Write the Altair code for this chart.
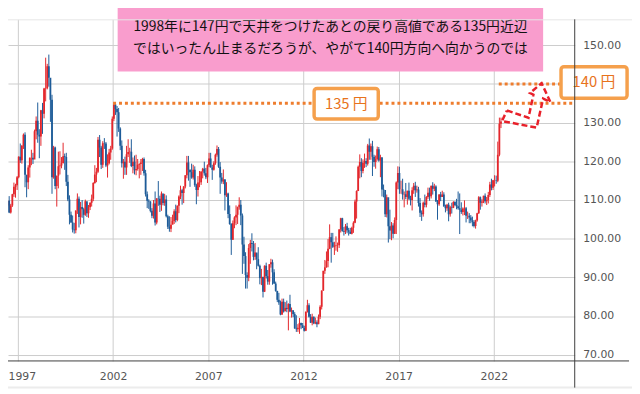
import altair as alt
import pandas as pd

# ---------------- data: USD/JPY monthly bars, Mar 1996 - May 2022 ----------------
START_YEAR, START_MONTH = 1996, 3
OPEN_FIRST = 105.3

HIGH = [
    107.4, 108.0, 109.1, 109.9, 111.0, 109.0, 111.6, 114.5, 114.2, 116.2,  # 1996 Mar-Dec
    121.3, 124.6, 124.2, 127.2, 127.5, 116.5, 119.0, 121.0, 123.0, 122.2, 128.2, 131.6,  # 1997
    135.2, 128.3, 133.3, 135.1, 139.0, 146.8, 145.2, 147.6, 139.6, 137.2, 124.0, 123.8,  # 1998
    116.3, 122.5, 122.6, 121.1, 124.8, 122.0, 122.2, 116.5, 111.2, 107.0, 106.0, 104.1,  # 1999
    107.3, 111.7, 110.9, 109.5, 110.0, 108.0, 110.1, 109.3, 108.7, 109.4, 111.4, 114.6,  # 2000
    119.0, 118.3, 126.3, 126.8, 124.0, 125.2, 126.0, 125.0, 121.8, 123.2, 124.0, 131.6,  # 2001
    135.2, 135.0, 134.3, 133.8, 128.8, 125.4, 120.6, 121.2, 124.0, 125.7, 123.5, 125.7,  # 2002
    121.0, 121.5, 121.7, 120.6, 119.5, 120.6, 120.9, 121.0, 117.8, 112.2, 110.2, 109.7,  # 2003
    107.9, 110.0, 112.2, 110.5, 114.9, 111.1, 112.2, 111.3, 111.6, 111.2, 106.2, 105.8,  # 2004
    105.6, 106.2, 107.6, 108.8, 108.6, 111.2, 113.7, 112.9, 113.6, 116.4, 121.4, 121.4,  # 2005
    117.9, 119.4, 119.1, 118.7, 114.2, 116.2, 117.5, 117.4, 118.3, 119.9, 118.3, 119.2,  # 2006
    122.2, 122.2, 119.1, 120.0, 122.0, 124.1, 123.7, 119.8, 117.0, 117.9, 115.4, 114.6,  # 2007
    111.9, 108.6, 104.0, 104.7, 105.8, 108.6, 108.3, 110.7, 110.0, 106.5, 100.5, 96.5,  # 2008
    91.3, 98.6, 99.7, 101.4, 99.4, 98.9, 96.1, 97.8, 93.3, 92.2, 90.2, 93.1,  # 2009
    93.8, 91.9, 93.4, 94.8, 94.6, 92.1, 88.9, 86.5, 86.0, 84.0, 84.5, 84.5,  # 2010
    83.6, 84.0, 83.3, 85.5, 82.2, 81.4, 81.0, 80.2, 77.9, 79.5, 78.3, 78.2,  # 2011
    77.5, 81.2, 84.2, 83.3, 80.5, 80.6, 79.9, 79.6, 78.9, 80.4, 82.8, 86.6,  # 2012
    91.7, 94.5, 96.7, 99.9, 103.7, 101.5, 101.5, 99.2, 100.6, 99.0, 102.5, 105.4,  # 2013
    105.4, 103.0, 103.8, 104.1, 102.8, 102.8, 103.1, 104.5, 110.1, 112.5, 118.9, 121.8,  # 2014
    120.8, 120.5, 122.0, 120.8, 124.5, 125.9, 124.6, 125.3, 121.7, 121.5, 123.8, 123.7,  # 2015
    121.7, 121.1, 114.0, 112.0, 111.4, 110.5, 107.5, 104.3, 104.0, 105.5, 114.8, 118.7,  # 2016
    118.6, 115.0, 115.5, 112.2, 114.4, 112.4, 114.5, 111.1, 113.3, 114.4, 114.7, 113.7,  # 2017
    113.4, 110.5, 107.3, 109.6, 111.4, 111.0, 113.2, 113.2, 113.7, 114.6, 114.2, 113.8,  # 2018
    110.0, 111.5, 112.1, 112.4, 112.0, 108.8, 109.0, 109.3, 108.5, 109.3, 109.7, 109.7,  # 2019
    110.3, 112.2, 111.7, 109.4, 108.1, 109.9, 108.2, 107.0, 106.6, 106.1, 105.7, 104.8,  # 2020
    104.9, 106.7, 111.0, 110.9, 110.2, 111.1, 111.7, 110.8, 112.1, 114.7, 115.5, 115.2,  # 2021
    116.4, 116.3, 125.1, 131.3, 131.3,  # 2022 Jan-May
]

LOW = [
    104.9, 104.1, 104.6, 108.0, 106.6, 106.5, 108.2, 110.8, 110.6, 112.6,  # 1996
    115.6, 119.6, 119.4, 123.2, 113.3, 110.7, 112.8, 115.8, 119.0, 119.3, 121.1, 125.7,  # 1997
    124.8, 120.8, 124.0, 127.1, 131.1, 135.5, 138.6, 139.3, 130.2, 111.6, 115.5, 112.8,  # 1998
    108.3, 113.0, 116.6, 118.2, 119.5, 117.8, 113.6, 109.7, 103.7, 104.1, 101.6, 101.3,  # 1999
    101.4, 106.4, 102.9, 103.7, 105.4, 103.9, 105.9, 105.6, 105.4, 107.4, 108.3, 109.7,  # 2000
    114.2, 114.6, 117.0, 121.1, 118.0, 118.3, 123.2, 118.5, 115.8, 119.2, 120.4, 123.0,  # 2001
    130.4, 132.0, 126.4, 127.6, 122.9, 118.4, 115.5, 116.5, 116.5, 121.1, 119.6, 118.5,  # 2002
    116.9, 116.6, 116.4, 117.6, 115.6, 116.5, 117.5, 116.3, 110.9, 107.9, 107.7, 106.8,  # 2003
    105.3, 105.2, 103.4, 103.7, 108.5, 106.9, 107.2, 108.6, 108.5, 105.5, 102.5, 101.8,  # 2004
    101.7, 103.8, 103.8, 104.2, 104.5, 106.6, 110.2, 108.8, 109.2, 113.0, 115.6, 115.0,  # 2005
    113.4, 115.5, 115.3, 113.4, 108.9, 110.9, 113.3, 113.9, 115.6, 116.3, 115.4, 114.4,  # 2006
    118.5, 118.4, 115.2, 117.6, 119.1, 121.2, 118.3, 111.6, 114.2, 114.1, 107.3, 110.8,  # 2007
    105.3, 103.6, 95.8, 99.7, 102.7, 103.5, 103.8, 107.5, 103.5, 90.9, 93.5, 87.1,  # 2008
    87.1, 89.0, 93.5, 96.7, 94.4, 94.5, 92.1, 92.8, 88.2, 88.0, 84.8, 86.2,  # 2009
    89.7, 88.1, 88.1, 92.5, 88.1, 88.3, 86.3, 83.6, 82.9, 80.2, 80.3, 80.9,  # 2010
    81.5, 81.0, 76.3, 81.0, 79.6, 79.7, 76.7, 75.9, 75.9, 75.4, 76.6, 76.9,  # 2011
    76.0, 76.1, 80.9, 79.6, 78.2, 77.6, 77.9, 77.9, 77.1, 77.9, 79.2, 81.7,  # 2012
    86.5, 90.9, 92.5, 92.6, 97.3, 93.8, 97.6, 95.8, 96.9, 96.6, 97.6, 101.6,  # 2013
    101.8, 100.8, 101.2, 101.4, 100.8, 101.2, 101.1, 101.5, 104.0, 105.2, 112.3, 115.6,  # 2014
    115.9, 116.9, 118.3, 118.5, 118.9, 120.4, 120.4, 116.2, 118.6, 118.1, 120.2, 119.9,  # 2015
    115.9, 110.9, 110.7, 105.6, 105.5, 99.0, 99.9, 99.6, 100.1, 101.2, 101.2, 112.8,  # 2016
    111.6, 111.6, 110.1, 108.1, 110.2, 108.8, 110.0, 108.6, 107.3, 111.6, 110.8, 111.9,  # 2017
    108.3, 105.6, 104.6, 105.7, 108.1, 108.1, 110.3, 109.8, 110.4, 111.4, 112.3, 109.5,  # 2018
    104.9, 108.5, 109.7, 110.8, 108.3, 106.8, 107.2, 104.5, 105.7, 106.5, 107.9, 108.4,  # 2019
    107.6, 107.5, 101.2, 106.4, 106.0, 106.1, 104.2, 105.1, 104.0, 104.0, 103.2, 102.9,  # 2020
    102.6, 104.4, 106.4, 107.5, 108.3, 109.2, 109.1, 108.7, 109.1, 110.8, 112.5, 112.6,  # 2021
    113.5, 114.2, 114.6, 121.3, 128.6,  # 2022
]

CLOSE = [
    106.4, 104.6, 108.6, 109.8, 106.8, 108.6, 111.5, 113.4, 113.8, 115.9,  # 1996
    121.2, 120.3, 124.0, 126.9, 116.5, 114.6, 118.4, 120.9, 120.9, 120.5, 127.8, 130.5,  # 1997
    126.9, 126.4, 133.2, 132.3, 138.8, 138.9, 144.6, 141.6, 135.9, 115.9, 123.6, 113.6,  # 1998
    116.3, 118.7, 118.9, 119.5, 121.3, 121.1, 114.7, 110.1, 106.2, 104.2, 102.4, 102.2,  # 1999
    107.3, 110.3, 105.6, 108.2, 107.6, 106.2, 109.7, 106.6, 108.1, 109.3, 110.3, 114.4,  # 2000
    116.6, 117.3, 125.6, 123.6, 119.1, 124.7, 124.6, 118.9, 119.5, 122.3, 123.3, 131.0,  # 2001
    134.7, 133.5, 132.7, 128.5, 124.0, 119.5, 119.9, 118.4, 121.8, 122.4, 122.5, 118.8,  # 2002
    119.9, 117.7, 118.0, 119.1, 119.3, 119.7, 120.6, 116.9, 111.5, 109.8, 109.6, 107.2,  # 2003
    105.9, 109.1, 104.2, 110.4, 110.3, 108.8, 111.7, 109.2, 110.1, 105.8, 103.1, 102.6,  # 2004
    103.6, 104.6, 107.1, 104.8, 108.5, 110.9, 112.5, 111.8, 113.5, 116.4, 119.7, 117.8,  # 2005
    117.2, 115.8, 117.8, 113.8, 112.6, 114.5, 114.6, 117.4, 118.1, 116.9, 115.9, 119.0,  # 2006
    120.7, 118.4, 117.8, 119.5, 121.7, 123.2, 118.6, 115.8, 114.8, 115.3, 111.2, 111.7,  # 2007
    106.4, 103.8, 99.7, 104.0, 105.5, 106.2, 108.1, 108.8, 106.0, 98.5, 95.5, 90.6,  # 2008
    89.9, 97.6, 98.9, 98.6, 95.3, 96.4, 94.7, 93.0, 89.8, 90.1, 86.3, 93.0,  # 2009
    90.3, 88.9, 93.4, 93.9, 91.3, 88.4, 86.5, 84.2, 83.5, 80.4, 83.7, 81.2,  # 2010
    82.1, 81.8, 83.1, 81.2, 81.5, 80.5, 76.8, 76.6, 77.0, 78.2, 77.6, 76.9,  # 2011
    76.2, 81.1, 82.8, 79.8, 78.3, 79.8, 78.1, 78.4, 77.9, 79.8, 82.4, 86.6,  # 2012
    91.7, 92.6, 94.2, 97.4, 100.4, 99.1, 97.9, 98.2, 98.3, 98.3, 102.4, 105.3,  # 2013
    102.0, 101.8, 103.2, 102.2, 101.8, 101.3, 102.8, 104.1, 109.6, 112.3, 118.6, 119.8,  # 2014
    117.5, 119.6, 120.1, 119.4, 124.1, 122.5, 123.9, 121.2, 119.8, 120.6, 123.1, 120.2,  # 2015
    121.0, 112.7, 112.6, 106.3, 110.7, 103.2, 102.1, 103.4, 101.3, 104.8, 114.5, 117.0,  # 2016
    112.8, 112.8, 111.4, 111.5, 110.8, 112.4, 110.3, 110.0, 112.5, 113.7, 112.5, 112.7,  # 2017
    109.2, 106.7, 106.3, 109.3, 108.8, 110.8, 111.9, 111.0, 113.7, 112.9, 113.5, 109.6,  # 2018
    108.9, 111.4, 110.8, 111.4, 108.3, 107.9, 108.8, 106.3, 108.1, 108.0, 109.5, 108.7,  # 2019
    108.4, 107.9, 107.5, 106.9, 107.8, 107.9, 105.9, 105.9, 105.5, 104.7, 104.3, 103.3,  # 2020
    104.7, 106.6, 110.7, 109.3, 109.6, 111.1, 109.7, 110.0, 111.3, 114.0, 113.2, 115.1,  # 2021
    115.1, 115.0, 121.7, 129.7, 130.3,  # 2022
]

YEAR_TICKS = [1997, 2002, 2007, 2012, 2017, 2022]
PRICE_TICKS = [70, 80, 90, 100, 110, 120, 130, 140, 150]
HIDDEN_PRICE_LABEL = 140  # covered by the "140 円" box in the original
X_DOMAIN = [1996.48, 2026.25]
Y_DOMAIN = [68.39, 156.71]

TITLE_LINES = [
    "1998年に147円で天井をつけたあとの戻り高値である135円近辺",
    "ではいったん止まるだろうが、やがて140円方向へ向かうのでは",
]
TITLE_X = [2013.42, 2013.42]
TITLE_Y = [154.67, 149.06]
TITLE_BOX = dict(x=2002.24, x2=2024.59, y=160.5, y2=143.2)

LEVEL_LINES = dict(x=[2002.0, 2022.26], x2=[2026.25, 2025.53], y=[135.0, 140.0])
LEVEL_BOXES = dict(x=[2012.56, 2025.53], x2=[2015.93, 2029.0],
                   y=[138.85, 144.46], y2=[130.93, 136.29])
LEVEL_TEXT = ["135 円", "140 円"]
LEVEL_TEXT_X = [2014.25, 2027.26]
LEVEL_TEXT_Y = [134.85, 140.4]

ARROW_X = [2022.69, 2023.82, 2024.08, 2023.90, 2024.51, 2024.97, 2024.59, 2024.25, 2022.43, 2022.69]
ARROW_Y = [133.15, 131.26, 137.24, 137.65, 140.20, 135.35, 136.22, 128.71, 130.42, 133.15]

# ---------------- build tables ----------------
rows = []
prev = OPEN_FIRST
for i, (h, l, c) in enumerate(zip(HIGH, LOW, CLOSE)):
    m0 = START_MONTH - 1 + i
    yr = START_YEAR + m0 // 12
    mo = m0 % 12 + 1
    rows.append(dict(t=yr + (mo - 0.5) / 12, high=h, low=l, open=prev, close=c,
                     dir="up" if c >= prev else "down"))
    prev = c
bars = pd.DataFrame(rows)

xs = alt.Scale(domain=X_DOMAIN, nice=False, zero=False)
ys = alt.Scale(domain=Y_DOMAIN, nice=False, zero=False)
col = alt.Scale(domain=["up", "down"], range=["#e3262b", "#1d5b98"])

W, H = 574, 346

xaxis = alt.Axis(values=YEAR_TICKS, format="d", title=None, grid=True, domain=False,
                 ticks=False, labelPadding=10, labelFont="DejaVu Sans", labelFontSize=11,
                 labelColor="#555555", gridColor="#cccccc",
                 labelFlush=12, labelFlushOffset=10)
yaxis = alt.Axis(values=PRICE_TICKS, title=None, grid=True, domain=False,
                 ticks=False, orient="right", labelPadding=8, labelFont="DejaVu Sans",
                 labelFontSize=11, labelColor="#555555", gridColor="#cccccc",
                 labelExpr=f"datum.value == {HIDDEN_PRICE_LABEL} ? '' : format(datum.value, '.2f')")

base_bars = alt.Chart(bars)
wick = base_bars.mark_rule(strokeWidth=1, clip=True).encode(
    x=alt.X("t:Q", scale=xs, axis=xaxis),
    y=alt.Y("low:Q", scale=ys, axis=yaxis),
    y2="high:Q",
    color=alt.Color("dir:N", scale=col, legend=None),
)
body = base_bars.mark_rule(strokeWidth=1.8, clip=True).encode(
    x=alt.X("t:Q", scale=xs),
    y=alt.Y("open:Q", scale=ys),
    y2="close:Q",
    color=alt.Color("dir:N", scale=col, legend=None),
)

title_box = alt.Chart(pd.DataFrame([TITLE_BOX])).mark_rect(color="#f99dcd").encode(
    x=alt.X("x:Q", scale=xs), x2="x2:Q", y=alt.Y("y:Q", scale=ys), y2="y2:Q")
title_text = alt.Chart(pd.DataFrame({"x": TITLE_X, "y": TITLE_Y, "s": TITLE_LINES})).mark_text(
    font="Noto Sans CJK JP", fontSize=14, color="#111111", align="center", baseline="middle"
).encode(x=alt.X("x:Q", scale=xs), y=alt.Y("y:Q", scale=ys), text="s:N")

lines = alt.Chart(pd.DataFrame(LEVEL_LINES)).mark_rule(
    color="#ee7d2e", strokeWidth=3, strokeDash=[3, 3]
).encode(x=alt.X("x:Q", scale=xs), x2="x2:Q", y=alt.Y("y:Q", scale=ys))

boxes = alt.Chart(pd.DataFrame(LEVEL_BOXES)).mark_rect(
    fill="white", stroke="#f5a04c", strokeWidth=3.5, cornerRadius=3
).encode(x=alt.X("x:Q", scale=xs), x2="x2:Q", y=alt.Y("y:Q", scale=ys), y2="y2:Q")
box_text = alt.Chart(pd.DataFrame({"x": LEVEL_TEXT_X, "y": LEVEL_TEXT_Y, "s": LEVEL_TEXT})).mark_text(
    font="Noto Sans CJK JP", fontSize=15, color="#e8731c", align="center", baseline="middle"
).encode(x=alt.X("x:Q", scale=xs), y=alt.Y("y:Q", scale=ys), text="s:N")

arrow = alt.Chart(pd.DataFrame({"x": ARROW_X, "y": ARROW_Y, "o": list(range(len(ARROW_X)))})).mark_line(
    color="#e8202a", strokeWidth=2.5, strokeDash=[6, 3]
).encode(x=alt.X("x:Q", scale=xs), y=alt.Y("y:Q", scale=ys), order="o:Q")

frame_top = alt.Chart().mark_rule(color="#e6e6e6", strokeWidth=1).encode(
    x=alt.value(-8), x2=alt.value(632), y=alt.value(0.5))
frame_bottom = alt.Chart().mark_rule(color="#ececec", strokeWidth=2).encode(
    x=alt.value(-8), x2=alt.value(632), y=alt.value(373))
axis_bottom = alt.Chart().mark_rule(color="#3c3c3c", strokeWidth=1).encode(
    x=alt.value(-8), x2=alt.value(629), y=alt.value(H))
axis_right = alt.Chart().mark_rule(color="#3c3c3c", strokeWidth=1).encode(
    x=alt.value(W), y=alt.value(0), y2=alt.value(373))

chart = alt.layer(
    wick, body, lines, boxes, box_text, arrow, title_box, title_text,
    frame_top, frame_bottom, axis_bottom, axis_right,
).properties(
    width=W, height=H,
    autosize=alt.AutoSizeParams(type="none"),
    padding={"left": 0, "top": 9, "right": 58, "bottom": 31},
    background="white",
).configure_view(stroke=None)

chart.save("out.html", embed_options={"renderer": "svg", "actions": False})
